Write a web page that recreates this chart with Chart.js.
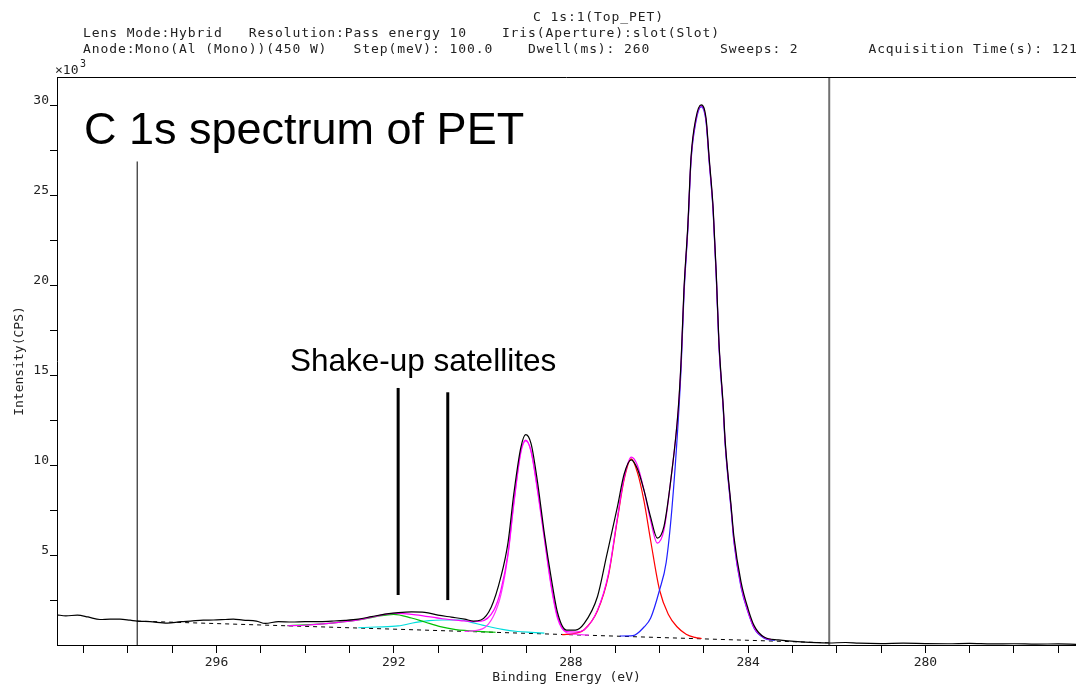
<!DOCTYPE html>
<html>
<head>
<meta charset="utf-8">
<script src="https://cdn.jsdelivr.net/npm/chart.js@4"></script>
<style>
  body { margin: 0; background: #fff; }
  #wrap { position: relative; width: 1076px; height: 685px; }
</style>
</head>
<body>
<div id="wrap"><canvas id="xpsChart"></canvas></div>
<script>
// C 1s spectrum of PET, intensity in 10^3 CPS vs binding energy (eV)
const energyLabels = [296, 292, 288, 284, 280];
const intensityLabels = [5, 10, 15, 20, 25, 30];

// measured spectrum [eV, kCPS]
const measured = [
  [299.6,1.68],[299.4,1.62],[299.14,1.66],[298.9,1.56],[298.63,1.42],[298.4,1.44],[298.18,1.44],
  [297.95,1.38],[297.79,1.33],[297.5,1.3],[297.11,1.22],[296.8,1.3],[296.59,1.33],[296.3,1.38],
  [296.07,1.39],[295.8,1.42],[295.62,1.44],[295.4,1.38],[295.1,1.33],[294.9,1.2],[294.6,1.3],
  [294.3,1.28],[294.0,1.3],[293.7,1.3],[293.4,1.33],[293.1,1.37],[292.8,1.44],[292.5,1.58],
  [292.2,1.72],[291.9,1.8],[291.6,1.84],[291.3,1.82],[291.0,1.66],[290.7,1.55],[290.4,1.44],
  [290.2,1.33],[290.03,1.39],[289.8,2.1],[289.58,3.8],[289.42,5.7],[289.29,8.4],[289.13,11.0],
  [289.02,11.7],[288.9,11.2],[288.75,9.0],[288.6,6.2],[288.45,3.8],[288.3,1.78],[288.1,0.83],
  [287.9,0.83],[287.7,1.2],[287.4,2.7],[287.2,4.9],[286.95,7.7],[286.8,9.5],[286.64,10.3],
  [286.5,9.8],[286.35,8.6],[286.2,7.1],[286.05,5.95],[285.9,6.6],[285.74,9.3],[285.58,13.06],
  [285.51,16.0],[285.45,19.7],[285.36,23.4],[285.29,27.1],[285.18,29.3],[285.06,30.05],
  [284.95,29.3],[284.88,27.1],[284.79,24.3],[284.72,20.7],[284.66,16.9],[284.56,13.2],
  [284.52,11.4],[284.38,7.6],[284.32,6.0],[284.16,3.5],[284.0,2.0],[283.86,1.05],[283.64,0.44],
  [283.32,0.28],[282.8,0.17],[282.19,0.11],[281.8,0.14],[281.5,0.1],[281.0,0.08],[280.5,0.1],
  [280.0,0.08],[279.5,0.07],[279.0,0.09],[278.5,0.06],[278.0,0.07],[277.5,0.05],[277.0,0.06],
  [276.6,0.04]
];

// fitted envelope
const envelope = [
  [294.4,1.07],[294.0,1.1],[293.6,1.17],[293.2,1.27],[292.8,1.4],[292.4,1.6],[292.0,1.76],
  [291.5,1.68],[290.9,1.46],[290.5,1.36],[290.2,1.3],[290.03,1.32],[289.74,1.94],[289.58,3.06],
  [289.42,5.1],[289.29,7.9],[289.13,10.8],[289.02,11.4],[288.9,10.8],[288.75,8.6],[288.6,6.0],
  [288.45,3.4],[288.3,1.56],[288.1,0.74],[287.9,0.72],[287.7,0.85],[287.4,1.94],[287.15,4.0],
  [286.95,7.1],[286.8,9.3],[286.64,10.45],[286.5,10.0],[286.35,8.6],[286.2,6.9],[286.05,5.67],
  [285.9,6.4],[285.74,9.3],[285.58,13.0],[285.51,15.9],[285.45,19.6],[285.36,23.3],[285.29,27.0],
  [285.18,29.2],[285.06,30.0],[284.95,29.2],[284.88,27.0],[284.79,24.2],[284.72,20.6],
  [284.66,16.8],[284.56,13.1],[284.52,11.3],[284.38,7.5],[284.32,5.8],[284.16,3.3],[284.0,1.85],
  [283.86,0.95],[283.64,0.42],[283.48,0.3]
];

// components (drawn on top of background)
const peakCC = [
  [286.9,0.5],[286.6,0.52],[286.35,1.0],[286.2,1.5],[286.0,3.06],[285.85,4.6],[285.72,7.6],
  [285.58,12.4],[285.51,15.6],[285.45,19.4],[285.36,23.2],[285.29,26.9],[285.18,29.1],
  [285.06,29.95],[284.95,29.1],[284.88,26.9],[284.79,24.1],[284.72,20.5],[284.66,16.7],
  [284.56,13.0],[284.52,11.2],[284.38,7.4],[284.32,5.7],[284.16,3.2],[284.0,1.8],[283.86,0.9],
  [283.64,0.38],[283.4,0.25]
];
const peakCO = [
  [288.2,0.58],[287.9,0.65],[287.7,0.85],[287.4,1.9],[287.15,3.9],[286.95,7.0],[286.8,9.2],
  [286.64,10.35],[286.5,9.6],[286.35,8.0],[286.2,5.8],[286.0,3.06],[285.8,1.7],[285.6,1.0],
  [285.4,0.6],[285.2,0.42],[285.05,0.36]
];
const peakOCO = [
  [290.4,0.76],[290.0,0.9],[289.75,1.6],[289.58,2.8],[289.42,5.0],[289.29,7.8],[289.13,10.7],
  [289.02,11.35],[288.9,10.75],[288.75,8.5],[288.6,5.9],[288.45,3.3],[288.3,1.45],[288.1,0.68],
  [287.9,0.6],[287.6,0.55]
];
const satellite1 = [
  [294.4,1.08],[294.0,1.12],[293.6,1.18],[293.2,1.27],[292.8,1.39],[292.4,1.58],[292.0,1.7],
  [291.6,1.5],[291.3,1.28],[290.95,1.02],[290.6,0.86],[290.35,0.8],[290.0,0.74],[289.7,0.71]
];
const satellite2 = [
  [292.8,0.96],[292.4,1.0],[291.9,1.06],[291.5,1.26],[291.2,1.36],[290.9,1.39],[290.5,1.39],
  [290.25,1.26],[290.0,1.11],[289.55,0.87],[289.2,0.75],[288.9,0.7],[288.6,0.66]
];
const background = [[297.79,1.33],[282.17,0.12]];

// fit region markers and satellite pointers [eV, from, to]
const regionMarks = [[297.79,0,26.9],[282.17,0,31.6]];
const satelliteMarks = [[291.9,2.78,14.3],[290.78,2.5,14.06]];

const pts = arr => arr.map(([x, y]) => ({x, y}));
const line = (data, color, extra) => Object.assign({
  data: pts(data), showLine: true, borderColor: color, borderWidth: 1.2,
  pointRadius: 0, fill: false, cubicInterpolationMode: 'monotone'
}, extra || {});

const MONO = '"DejaVu Sans Mono", monospace';

const overlay = {
  id: 'overlay',
  afterDraw(chart) {
    const ctx = chart.ctx;
    const a = chart.chartArea;
    ctx.save();
    // frame top line
    ctx.strokeStyle = '#000';
    ctx.lineWidth = 1;
    ctx.beginPath();
    ctx.moveTo(a.left, a.top + 0.5);
    ctx.lineTo(a.right, a.top + 0.5);
    ctx.stroke();

    // header lines
    ctx.fillStyle = '#222';
    ctx.font = '13px ' + MONO;
    ctx.letterSpacing = '0.9px';
    ctx.textBaseline = 'middle';
    ctx.textAlign = 'left';
    ctx.fillText('C 1s:1(Top_PET)', 533, 18);
    ctx.fillText('Lens Mode:Hybrid   Resolution:Pass energy 10    Iris(Aperture):slot(Slot)', 83, 34);
    ctx.fillText('Anode:Mono(Al (Mono))(450 W)   Step(meV): 100.0    Dwell(ms): 260        Sweeps: 2        Acquisition Time(s): 121', 83, 50);
    ctx.letterSpacing = '0px';

    // exponent label
    ctx.font = '13px ' + MONO;
    ctx.fillText('\u00d710', 55, 71);
    ctx.font = '10px ' + MONO;
    ctx.fillText('3', 80, 64);

    // annotations
    ctx.fillStyle = '#000';
    ctx.textBaseline = 'alphabetic';
    ctx.font = '45px "Liberation Sans", Arial, sans-serif';
    ctx.fillText('C 1s spectrum of PET', 84, 144);
    ctx.font = '31.5px "Liberation Sans", Arial, sans-serif';
    ctx.fillText('Shake-up satellites', 290, 371);
    ctx.restore();
  }
};

new Chart(document.getElementById('xpsChart'), {
  type: 'scatter',
  data: {
    datasets: [
      line(measured, '#000000'),
      line(envelope, '#ff00ff'),
      line(peakOCO, '#ff33ff'),
      line(peakCC, '#2020ff'),
      line(peakCO, '#ff0000'),
      line(satellite1, '#00c000'),
      line(satellite2, '#00dddd'),
      line(background, '#000000', {borderDash: [4, 4], borderWidth: 1, cubicInterpolationMode: 'default'}),
      line([[regionMarks[0][0], regionMarks[0][1]], [regionMarks[0][0], regionMarks[0][2]]], '#000000', {borderWidth: 1, cubicInterpolationMode: 'default'}),
      line([[regionMarks[1][0], regionMarks[1][1]], [regionMarks[1][0], regionMarks[1][2]]], '#707070', {borderWidth: 2, cubicInterpolationMode: 'default'}),
      line([[satelliteMarks[0][0], satelliteMarks[0][1]], [satelliteMarks[0][0], satelliteMarks[0][2]]], '#000000', {borderWidth: 3, cubicInterpolationMode: 'default'}),
      line([[satelliteMarks[1][0], satelliteMarks[1][1]], [satelliteMarks[1][0], satelliteMarks[1][2]]], '#000000', {borderWidth: 3, cubicInterpolationMode: 'default'})
    ]
  },
  options: {
    responsive: true,
    maintainAspectRatio: false,
    animation: false,
    layout: { padding: { top: 77, right: 0, left: 0, bottom: 0 } },
    plugins: { legend: { display: false }, tooltip: { enabled: false } },
    scales: {
      x: {
        type: 'linear',
        reverse: true,
        min: 276.6,
        max: 299.6,
        afterBuildTicks: s => {
          const t = [];
          for (let v = 277; v <= 299; v++) t.push({value: v});
          s.ticks = t;
        },
        afterFit: s => { s.height = 40; },
        grid: { drawOnChartArea: false, drawTicks: true, tickLength: 8, color: '#000' },
        border: { display: true, color: '#000', width: 1 },
        ticks: {
          autoSkip: false, maxRotation: 0, padding: 2,
          color: '#222', font: { family: MONO, size: 13 },
          callback: v => energyLabels.includes(v) ? String(v) : ''
        },
        title: {
          display: true, text: 'Binding Energy (eV)', color: '#222',
          font: { family: MONO, size: 13 }, padding: { top: 0, bottom: 0 }
        }
      },
      y: {
        min: 0,
        max: 31.6,
        afterBuildTicks: s => {
          const t = [];
          for (let v = 2.5; v <= 30; v += 2.5) t.push({value: v});
          s.ticks = t;
        },
        afterFit: s => { s.width = 57; },
        grid: { drawOnChartArea: false, drawTicks: true, tickLength: 7, color: '#000' },
        border: { display: true, color: '#000', width: 1 },
        ticks: {
          autoSkip: false, padding: 1, labelOffset: -5,
          color: '#222', font: { family: MONO, size: 13 },
          callback: v => intensityLabels.includes(v) ? String(v) : ''
        },
        title: {
          display: true, text: 'Intensity(CPS)', color: '#222',
          font: { family: MONO, size: 13 }, padding: { top: 12, bottom: 0 }
        }
      }
    }
  },
  plugins: [overlay]
});
</script>
</body>
</html>
